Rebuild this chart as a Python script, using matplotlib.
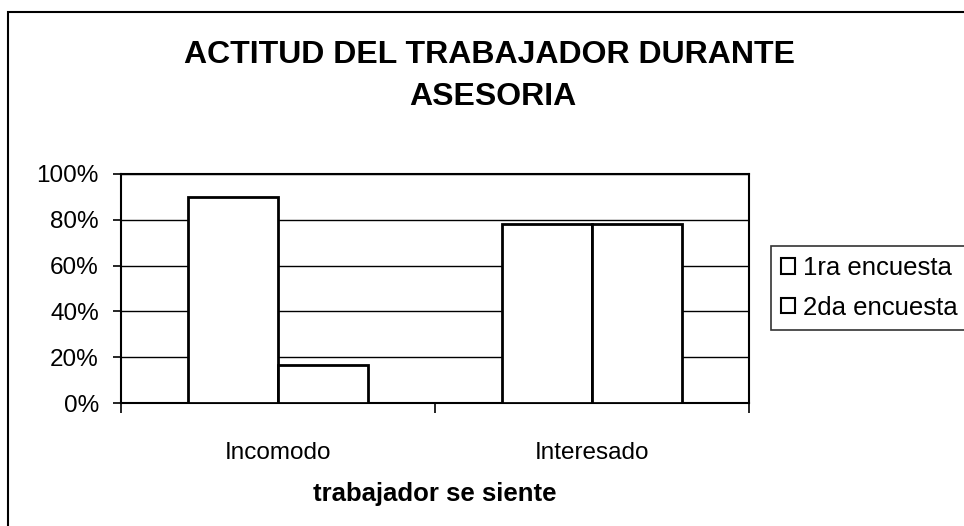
import matplotlib
matplotlib.use("Agg")
import matplotlib.pyplot as plt
from matplotlib.patches import Rectangle
from matplotlib.ticker import FuncFormatter, FixedLocator
import numpy as np

plt.rcParams['font.family'] = ['Liberation Sans', 'DejaVu Sans']

categories = ["Incomodo", "Interesado"]
series_names = ["1ra encuesta", "2da encuesta"]
primera = [0.90, 0.78]
segunda = [0.165, 0.78]
yticks = [0.0, 0.2, 0.4, 0.6, 0.8, 1.0]

W, H = 964, 526
fig = plt.figure(figsize=(W / 100, H / 100), dpi=100)
fig.patch.set_facecolor("white")

# outer chart frame (extends beyond the right/bottom of the image)
fig.patches.append(Rectangle((8 / W, -0.1), 1.2, 1 - 12 / H + 0.1,
                             transform=fig.transFigure, fill=False,
                             edgecolor="black", linewidth=1.5, clip_on=False))

ax = fig.add_axes([121 / W, 1 - 403 / H, (749 - 121) / W, (403 - 174) / H])

x = np.arange(len(categories))
w = 0.287
ax.bar(x - w / 2, primera, width=w, color="white", edgecolor="black",
       linewidth=2.0, label=series_names[0], zorder=3)
ax.bar(x + w / 2, segunda, width=w, color="white", edgecolor="black",
       linewidth=2.0, label=series_names[1], zorder=3)

ax.set_xlim(-0.5, 1.5)
ax.set_ylim(0, 1.0)
ax.yaxis.set_major_locator(FixedLocator(yticks))
ax.yaxis.set_major_formatter(FuncFormatter(lambda v, p: f"{v*100:.0f}%"))
ax.grid(axis="y", color="black", linewidth=1.0, zorder=0)
ax.set_axisbelow(True)

ax.set_xticks(x)
ax.set_xticklabels(categories, fontsize=17.5)
ax.tick_params(axis="x", length=0, pad=28)
ax.set_xticks([-0.5, 0.5, 1.5], minor=True)
ax.tick_params(axis="x", which="minor", length=7, width=1.2, direction="out")
ax.tick_params(axis="y", length=6, width=1.2, direction="out", labelsize=17.5, pad=10)

for s in ax.spines.values():
    s.set_linewidth(1.5)
    s.set_color("black")

ax.set_xlabel("trabajador se siente", fontsize=18.5, fontweight="bold", labelpad=13)

fig.text(490 / W, 1 - 63 / H, "ACTITUD DEL TRABAJADOR DURANTE", ha="center",
         va="baseline", fontsize=23, fontweight="bold")
fig.text(493 / W, 1 - 105 / H, "ASESORIA", ha="center",
         va="baseline", fontsize=23, fontweight="bold")

leg = ax.legend(loc="upper left", bbox_to_anchor=(771 / W, 1 - 246 / H),
                bbox_transform=fig.transFigure, fontsize=18.5, frameon=True,
                fancybox=False, edgecolor="black", handlelength=0.55,
                handleheight=0.55, handletextpad=0.3, borderpad=0.4,
                labelspacing=0.6, borderaxespad=0)
leg.get_frame().set_linewidth(1.2)
for h in leg.legend_handles:
    h.set_linewidth(1.5)

fig.savefig("out.png", dpi=100, facecolor="white")
